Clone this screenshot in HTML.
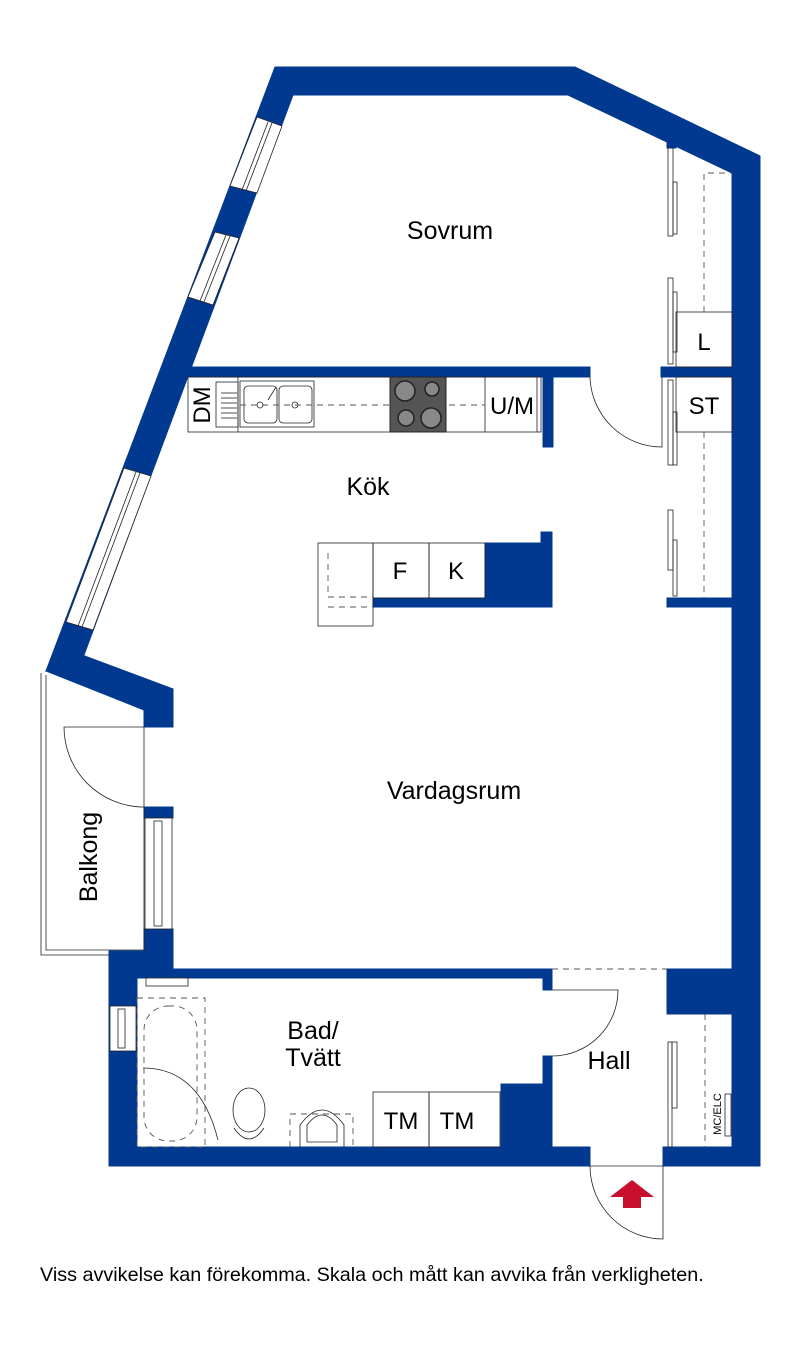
<!DOCTYPE html>
<html><head><meta charset="utf-8"><style>
html,body{margin:0;padding:0;background:#fff;width:800px;height:1350px;overflow:hidden}
svg{display:block}
text{font-family:"Liberation Sans",sans-serif;fill:#000}
</style></head><body>
<svg width="800" height="1350" viewBox="0 0 800 1350" xmlns="http://www.w3.org/2000/svg">
<g fill="#023990" stroke="#023990" stroke-width="1">
<polygon points="275,67 575,67 760,156 760,1166 663,1166 663,1147 732,1147 732,173 568,95 293,95 84,655 46,671"/>
<polygon points="82,655 173,689 173,727 144,727 144,710 46,671"/>
<rect x="144" y="807" width="29" height="11"/>
<polygon points="144,929 173,929 173,969 552,969 552,978 137,978 137,1147 590,1147 590,1166 109,1166 109,951 144,951"/>
<rect x="543" y="969" width="9" height="21"/>
<polygon points="543,1056 552,1056 552,1147 501,1147 501,1084 543,1084"/>
<rect x="667" y="969" width="65" height="45"/>
<polygon points="190,367 590,367 590,377 553,377 553,447 543,447 543,377 187,377"/>
<rect x="661" y="367" width="71" height="10"/>
<rect x="667" y="598" width="65" height="9"/>
<polygon points="373,598 485,598 485,543 541,543 541,532 552,532 552,607 373,607"/>
<rect x="667" y="142" width="9" height="6"/>
</g>
<g fill="#fff" stroke="#222" stroke-width="0.8">
<polygon points="257,117 282,126 257,193 230,186"/>
<polygon points="215,232 239,238 213,305 188,297"/>
<polygon points="124,468 151,476 93,630 66,622"/>
<line x1="268" y1="122" x2="242" y2="190"/><line x1="272" y1="123" x2="246" y2="191"/>
<line x1="226" y1="235" x2="200" y2="301"/><line x1="230" y1="236" x2="204" y2="302"/>
<line x1="136" y1="472" x2="78" y2="626"/><line x1="140" y1="473" x2="82" y2="627"/>
<rect x="145" y="818" width="27" height="111"/>
<rect x="154" y="821" width="8" height="105"/>
<rect x="110" y="1006" width="26" height="45"/>
<rect x="118" y="1009" width="7" height="39"/>
<rect x="146" y="978" width="42" height="8"/>
</g>
<g fill="none" stroke="#222" stroke-width="0.8">
<polyline points="41,673 41,955 109,955"/>
<polyline points="46,675 46,950 144,950 144,727"/>
<path d="M144,807 A80,80 0 0 1 64,727 L144,727"/>
<rect x="676" y="312" width="56" height="55"/>
<rect x="676" y="377" width="56" height="55"/>
<rect x="668" y="148" width="5" height="88"/><rect x="673" y="182" width="4" height="52"/>
<rect x="668" y="278" width="5" height="86"/><rect x="673" y="292" width="4" height="60"/>
<rect x="668" y="380" width="5" height="85"/><rect x="673" y="412" width="4" height="53"/>
<rect x="668" y="510" width="5" height="60"/><rect x="673" y="540" width="4" height="56"/>
<path d="M590,377 A72,72 0 0 0 662,447 L662,377"/>
<rect x="188" y="377" width="353" height="55"/>
<line x1="238" y1="377" x2="238" y2="432"/>
<line x1="485" y1="377" x2="485" y2="432"/>
<line x1="537" y1="377" x2="537" y2="432"/>
<rect x="240" y="381" width="74" height="46"/>
<rect x="244" y="386" width="33" height="37" rx="4"/>
<rect x="279" y="386" width="33" height="37" rx="4"/>
<circle cx="260" cy="405" r="3"/><circle cx="295" cy="405" r="3"/>
<line x1="268" y1="400" x2="276" y2="387"/>
<line x1="221" y1="393" x2="237" y2="393"/><line x1="221" y1="398" x2="237" y2="398"/><line x1="221" y1="403" x2="237" y2="403"/><line x1="221" y1="408" x2="237" y2="408"/><line x1="221" y1="413" x2="237" y2="413"/><line x1="221" y1="418" x2="237" y2="418"/>
<rect x="216" y="382" width="22" height="45"/>
<rect x="318" y="543" width="55" height="83"/>
<rect x="373" y="543" width="56" height="55"/>
<rect x="429" y="543" width="56" height="55"/>
<rect x="373" y="1092" width="56" height="55"/>
<rect x="429" y="1092" width="71" height="55"/>
<ellipse cx="249" cy="1110" rx="16" ry="22"/>
<path d="M234,1128 Q249,1150 264,1128"/>
<path d="M300,1147 L300,1125 Q322,1095 344,1125 L344,1147"/>
<path d="M307,1142 L307,1125 Q322,1105 337,1125 L337,1142 Z"/>
<path d="M143,1068 Q200,1068 218,1140"/>
<path d="M552,1056 A66,66 0 0 0 618,990 L552,990"/>
<rect x="668" y="1042" width="4" height="105"/><rect x="672" y="1042" width="5" height="66"/>
<rect x="725" y="1094" width="6" height="42"/>
<path d="M590,1166 A73,73 0 0 0 663,1239 L663,1166"/>
<line x1="590" y1="1166" x2="663" y2="1166"/>
</g>
<g fill="none" stroke="#555" stroke-width="0.9" stroke-dasharray="6,5">
<polyline points="704,312 704,173 732,173"/>
<line x1="704" y1="432" x2="704" y2="598"/>
<line x1="240" y1="405" x2="485" y2="405"/>
<polyline points="328,553 328,597 373,597"/><line x1="328" y1="607" x2="373" y2="607"/>
<rect x="137" y="998" width="68" height="149"/>
<rect x="144" y="1006" width="53" height="135" rx="24"/>
<line x1="552" y1="969" x2="667" y2="969"/>
<line x1="705" y1="1014" x2="705" y2="1147"/>
<polyline points="290,1147 290,1114 353,1114 353,1147"/>
</g>
<rect x="390" y="377" width="56" height="55" fill="#555" stroke="#222"/>
<g fill="#888" stroke="#222" stroke-width="1.5">
<circle cx="405" cy="391" r="10"/><circle cx="432" cy="389" r="7"/>
<circle cx="406" cy="418" r="8"/><circle cx="431" cy="418" r="10"/>
</g>
<polygon points="632,1180 654,1197 641,1197 641,1208 623,1208 623,1197 610,1197" fill="#c8102e"/>
<g font-size="25">
<text x="450" y="239" text-anchor="middle">Sovrum</text>
<text x="368" y="495" text-anchor="middle">Kök</text>
<text x="454" y="799" text-anchor="middle">Vardagsrum</text>
<text x="313" y="1039" text-anchor="middle">Bad/</text>
<text x="313" y="1066" text-anchor="middle">Tvätt</text>
<text x="609" y="1069" text-anchor="middle">Hall</text>
<text transform="translate(97,857) rotate(-90)" text-anchor="middle">Balkong</text>
</g>
<g font-size="24">
<text x="704" y="350" text-anchor="middle">L</text>
<text x="704" y="414" text-anchor="middle">ST</text>
<text x="400" y="579" text-anchor="middle">F</text>
<text x="456" y="579" text-anchor="middle">K</text>
<text x="512" y="414" text-anchor="middle">U/M</text>
<text x="401" y="1129" text-anchor="middle">TM</text>
<text x="457" y="1129" text-anchor="middle">TM</text>
<text transform="translate(210,405) rotate(-90)" text-anchor="middle">DM</text>
</g>
<text transform="translate(721,1114) rotate(-90)" text-anchor="middle" font-size="11">MC/ELC</text>
<text x="40" y="1281" font-size="19.8">Viss avvikelse kan förekomma. Skala och mått kan avvika från verkligheten.</text>
</svg>
</body></html>
